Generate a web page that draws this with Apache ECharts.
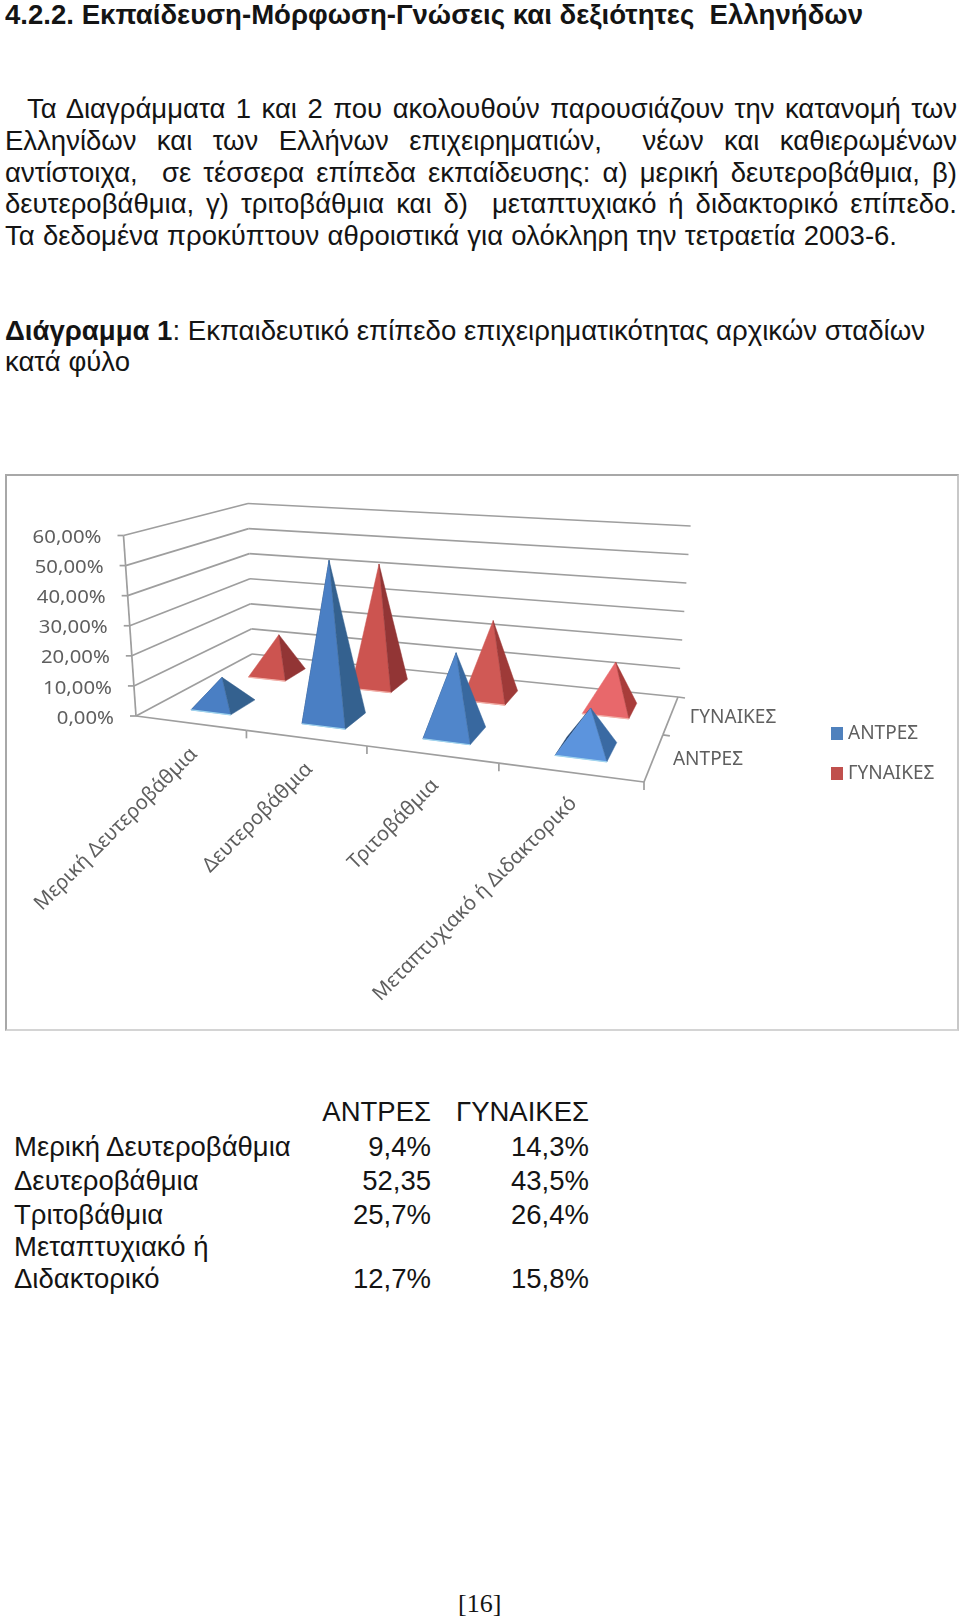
<!DOCTYPE html>
<html><head><meta charset="utf-8">
<script src="https://cdn.jsdelivr.net/npm/echarts@6/dist/echarts.min.js"></script>
<style>
html,body{margin:0;padding:0;background:#fff}
body{width:960px;height:1621px;position:relative;overflow:hidden}
.t{position:absolute;white-space:pre;font-family:"Liberation Sans",Arial,sans-serif;color:#141414;transform-origin:0 50%;line-height:32px;height:32px}
#chart{position:absolute;left:6px;top:474px;width:952px;height:556px;box-sizing:content-box}
#frame{position:absolute;left:5px;top:474px;width:954px;height:557px;border:2px solid #a8a8a8;border-bottom-color:#d4d4d4;border-right-color:#c8c8c8;box-sizing:border-box}
</style></head><body>
<div id="frame"></div><div id="chart"></div>
<script>
// ---- data ----
const categories=['Μερική Δευτεροβάθμια','Δευτεροβάθμια','Τριτοβάθμια','Μεταπτυχιακό ή Διδακτορικό'];
const seriesNames=['ΑΝΤΡΕΣ','ΓΥΝΑΙΚΕΣ'];
const menValues=[9.4,52.35,25.7,12.7];
const womenValues=[14.3,43.5,26.4,15.8];
const yTicks=[0,10,20,30,40,50,60];
const yTickLabels=['0,00%','10,00%','20,00%','30,00%','40,00%','50,00%','60,00%'];
const headingText='4.2.2. Εκπαίδευση-Μόρφωση-Γνώσεις και δεξιότητες  Ελληνήδων';
const paragraph=['Τα Διαγράμματα 1 και 2 που ακολουθούν παρουσιάζουν την κατανομή των',
'Ελληνίδων και των Ελλήνων επιχειρηματιών,  νέων και καθιερωμένων',
'αντίστοιχα,  σε τέσσερα επίπεδα εκπαίδευσης: α) μερική δευτεροβάθμια, β)',
'δευτεροβάθμια, γ) τριτοβάθμια και δ)  μεταπτυχιακό ή διδακτορικό επίπεδο.',
'Τα δεδομένα προκύπτουν αθροιστικά για ολόκληρη την τετραετία 2003-6.'];
const captionBold='Διάγραμμα 1';
const captionRest=': Εκπαιδευτικό επίπεδο επιχειρηματικότητας αρχικών σταδίων';
const captionLine2='κατά φύλο';
const tableRowLabels=['Μερική Δευτεροβάθμια','Δευτεροβάθμια','Τριτοβάθμια','Μεταπτυχιακό ή','Διδακτορικό'];
const tableMen=['9,4%','52,35','25,7%','','12,7%'];
const tableWomen=['14,3%','43,5%','26,4%','','15,8%'];
const pageNumber='[16]';

// ---- page text ----
function put(html,left,cy,width,opt){
  opt=opt||{};
  const d=document.createElement('div');d.className='t';d.innerHTML=html;
  d.style.fontSize=(opt.size||27.5)+'px';
  d.style.top=(cy-16)+'px';
  if(opt.bold)d.style.fontWeight='bold';
  if(opt.serif)d.style.fontFamily='"Liberation Serif",serif';
  document.body.appendChild(d);
  const w=d.getBoundingClientRect().width;
  if(opt.right!==undefined){d.style.left=(opt.right-w)+'px';return;}
  d.style.left=left+'px';
  if(width){
    const gaps=(d.textContent.match(/ /g)||[]).length;
    if(w<width&&gaps>0&&opt.just)d.style.wordSpacing=((width-w)/gaps)+'px';
    else d.style.transform='scaleX('+(width/w)+')';
  }
}
put(headingText,5,15,858,{bold:true});
const pxs=[[27,930],[5,952],[5,952],[5,952],[5,892]];
const pys=[109,141,173,204,236];
paragraph.forEach((s,i)=>put(s,pxs[i][0],pys[i],pxs[i][1],{just:true}));
put('<b>'+captionBold+'</b>'+captionRest,5,331,920);
put(captionLine2,5,362,125);
const rowY=[1147,1181,1215,1247,1279];
put(seriesNames[0],0,1112,0,{right:431});
put(seriesNames[1],0,1112,0,{right:589});
tableRowLabels.forEach((s,i)=>{put(s,14,rowY[i],0);
  if(tableMen[i])put(tableMen[i],0,rowY[i],0,{right:431});
  if(tableWomen[i])put(tableWomen[i],0,rowY[i],0,{right:589});});
put(pageNumber,458,1604,0,{serif:true,size:26});

// ---- perspective frame (page px, mapped to chart div) ----
const OX=6,OY=474;
const P=(x,y)=>[x-OX,y-OY];
const floorQuad=[P(136,716),P(644,782),P(678,697),P(252,654)];
const topQuad=[P(123.5,535.5),P(685,577),P(690.6,526),P(248,503.5)];
function homography(q){
  const [x0,y0]=q[0],[x1,y1]=q[1],[x2,y2]=q[2],[x3,y3]=q[3];
  const dx1=x1-x2,dx2=x3-x2,sx=x0-x1+x2-x3,dy1=y1-y2,dy2=y3-y2,sy=y0-y1+y2-y3;
  const den=dx1*dy2-dx2*dy1;
  const g=(sx*dy2-dx2*sy)/den,h=(dx1*sy-sx*dy1)/den;
  const a=x1-x0+g*x1,b=x3-x0+h*x3,d=y1-y0+g*y1,e=y3-y0+h*y3;
  return (u,v)=>{const w=g*u+h*v+1;return [(a*u+b*v+x0)/w,(d*u+e*v+y0)/w];};
}
const Hf=homography(floorQuad),Ht=homography(topQuad);
// u = position across the categories, v = depth, t = height 0..1
function proj(u,v,t){const a=Hf(u,v),b=Ht(u,v);return [a[0]+(b[0]-a[0])*t,a[1]+(b[1]-a[1])*t];}
function norm(params,api,cat,val){
  const c=api.coord([cat,val]),r=params.coordSys;
  return {u:(c[0]-r.x)/r.width,t:(r.y+r.height-c[1])/r.height};
}
const GRID='#9e9e9e',LABEL='#5f5f5f',LFONT='"Noto Sans","Open Sans",sans-serif';
const line=(a,b,w)=>({type:'line',shape:{x1:a[0],y1:a[1],x2:b[0],y2:b[1]},style:{stroke:GRID,lineWidth:w||1.7}});
const poly=(pts,fill)=>({type:'polygon',shape:{points:pts},style:{fill:fill,stroke:fill,lineWidth:0.5}});

const faces={men:{front:['#4a7fc4','#4a7fc4','#5086cb','#5c94dd'],side:['#34618f','#34618f','#38689f','#3a6aa3'],hidden:'#23456f',edge:'#9fd4ee',lean:0},
             women:{front:['#cc5450','#cc5450','#d05955','#e8686b'],side:['#923535','#923535','#9e3a38','#a83c3a'],hidden:null,edge:'#f2b0a8',lean:3}};
function pyramid(depth,style){
  const du=0.046,dv=0.105,shift=0.005;
  return function(params,api){
    const i=api.value(0),n=norm(params,api,i,api.value(1)),u=n.u+shift,v=depth;
    const fl=proj(u-du,v-dv,0),fr=proj(u+du,v-dv,0),br=proj(u+du,v+dv,0),bl=proj(u-du,v+dv,0);
    const apex=proj(u,v,n.t);apex[0]+=style.lean;
    const kids=[];
    if(style.hidden)kids.push(poly([fl,bl,apex],style.hidden));
    kids.push(poly([fl,fr,apex],style.front[i]),poly([fr,br,apex],style.side[i]),
      {type:'line',shape:{x1:fl[0],y1:fl[1],x2:fr[0],y2:fr[1]},style:{stroke:style.edge,lineWidth:1.2}});
    return {type:'group',children:kids};
  };
}
function gridLines(params,api){
  const i=params.dataIndex,n=norm(params,api,0,api.value(1)),t=n.t;
  const a=proj(0,0,t),b=proj(0,1,t),c=proj(1,1,t);
  const kids=[line(a,b),line(b,c),line([a[0]-6,a[1]],a),
    {type:'text',x:a[0]-22,y:a[1]+2.5,scaleX:1.13,style:{text:yTickLabels[i],align:'right',verticalAlign:'middle',fill:LABEL,font:'18px '+LFONT}}];
  if(i<yTicks.length-1)kids.push(line(a,proj(0,0,(api.value(1)+10)/60)));
  return {type:'group',children:kids};
}
function catAxis(params,api){
  const i=api.value(0),n=norm(params,api,i,0),p=proj(n.u,0,0);
  const a=proj(i/4,0,0),b=proj((i+1)/4,0,0);
  return {type:'group',children:[line(a,b),line(b,[b[0],b[1]+8]),
    {type:'text',x:p[0]+4,y:p[1]+28,rotation:Math.PI/4,style:{text:categories[i],align:'right',verticalAlign:'middle',fill:LABEL,font:'20.2px '+LFONT}}]};
}
function depthAxis(params,api){
  const i=params.dataIndex,a=proj(1,i/2,0),b=proj(1,(i+1)/2,0),m=proj(1,(i+.5)/2,0);
  return {type:'group',children:[line(a,b),line(b,[b[0]+7,b[1]+1]),
    {type:'text',x:m[0]+19,y:m[1]+2.5,style:{text:seriesNames[i],align:'left',verticalAlign:'middle',fill:LABEL,font:'19px '+LFONT}}]};
}
const chart=echarts.init(document.getElementById('chart'),null,{renderer:'canvas'});
const custom=(name,data,fn,color)=>({name,type:'custom',data,renderItem:fn,clip:false,silent:true,
  encode:{x:0,y:1},itemStyle:color?{color}:undefined});
chart.setOption({
  animation:false,backgroundColor:'transparent',
  grid:{left:130,top:40,width:500,height:200},
  xAxis:{type:'category',data:categories,show:false},
  yAxis:{type:'value',min:0,max:60,interval:10,show:false},
  legend:{data:seriesNames,orient:'vertical',left:820,top:245,itemWidth:12,itemHeight:13,itemGap:21,icon:'rect',
    textStyle:{color:LABEL,fontFamily:LFONT,fontSize:19,padding:[0,0,0,0]},selectedMode:false},
  tooltip:{show:false},
  series:[
    custom('grid',yTicks.map(v=>[0,v]),gridLines),
    custom('cat',categories.map((c,i)=>[i,0]),catAxis),
    custom('depth',seriesNames.map((c,i)=>[0,i]),depthAxis),
    custom(seriesNames[1],womenValues.map((v,i)=>[i,v]),pyramid(0.75,faces.women),'#c0504d'),
    custom(seriesNames[0],menValues.map((v,i)=>[i,v]),pyramid(0.25,faces.men),'#4f81bd')
  ]
});
</script>
</body></html>
